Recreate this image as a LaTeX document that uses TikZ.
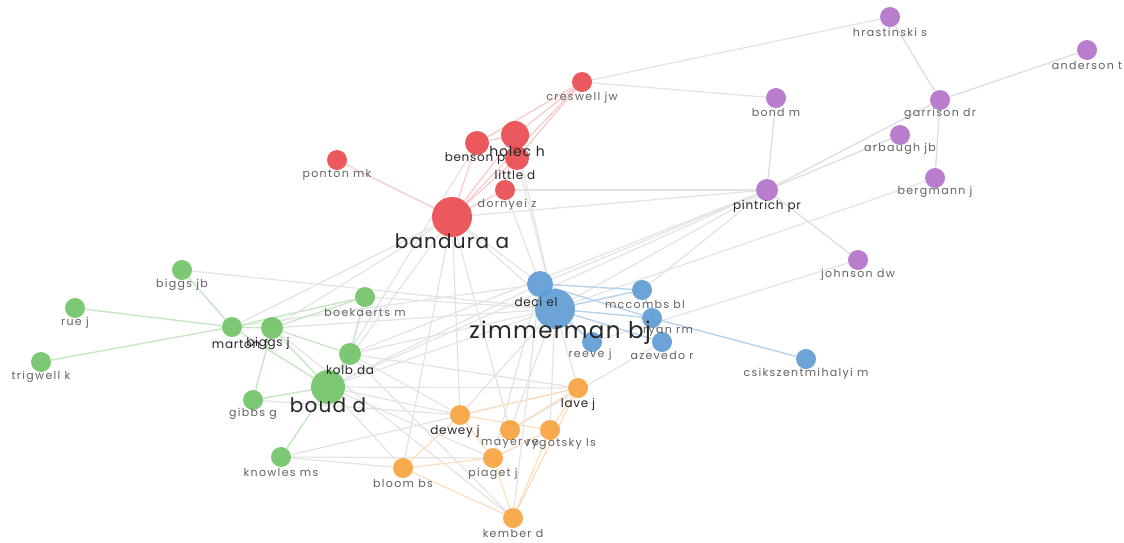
\documentclass[tikz,border=0pt]{standalone}
\usepackage{fontspec}
\setmainfont{Poppins}
\newfontfamily\smallfam[LetterSpace=12]{Poppins}
\newfontfamily\midfam[LetterSpace=6]{Poppins}
\usetikzlibrary{backgrounds}
\definecolor{cred}{HTML}{E9474C}
\definecolor{cpur}{HTML}{B06FC6}
\definecolor{cgrn}{HTML}{6EC265}
\definecolor{cblu}{HTML}{5D9AD4}
\definecolor{corg}{HTML}{F7A13B}
\tikzset{v/.style={circle,inner sep=0pt,minimum size=20pt,opacity=.9}}
\tikzset{lb/.style={inner sep=0pt,text=black!62,font=\smallfam\fontsize{11}{12}\selectfont}}
\tikzset{lbm/.style={inner sep=0pt,text=black!85,font=\midfam\fontsize{12}{13}\selectfont}}
\tikzset{lbb/.style={inner sep=0pt,text=black!85,font=\midfam\fontsize{20}{21}\selectfont}}
\tikzset{ed/.style={draw=black!11,line width=1.2pt}}
\tikzset{edr/.style={draw=cred!30,line width=1.2pt}}
\tikzset{edp/.style={draw=cpur!30!black!15,line width=1.4pt}}
\tikzset{edg/.style={draw=cgrn!40,line width=1.4pt}}
\tikzset{edb/.style={draw=cblu!45,line width=1.4pt}}
\tikzset{edo/.style={draw=corg!35,line width=1.2pt}}

\begin{document}
\begin{tikzpicture}[x=1pt, y=-1pt]
    \useasboundingbox (0,0) rectangle (1124,542);
    \node[v, fill=cred] (creswell) at (582, 82) {};
    \node[v, fill=cred, minimum size=24pt] (benson) at (477, 143) {};
    \node[v, fill=cred, minimum size=28pt] (holec) at (515, 135) {};
    \node[v, fill=cred, minimum size=24pt] (little) at (517, 158) {};
    \node[v, fill=cred] (dornyei) at (505, 190) {};
    \node[v, fill=cred] (ponton) at (337, 160) {};
    \node[v, fill=cred, minimum size=40pt] (bandura) at (452, 217) {};
    \node[v, fill=cpur] (hrastinski) at (890, 17) {};
    \node[v, fill=cpur] (anderson) at (1087, 50) {};
    \node[v, fill=cpur] (bond) at (776, 98) {};
    \node[v, fill=cpur] (garrison) at (940, 100) {};
    \node[v, fill=cpur] (arbaugh) at (900, 135) {};
    \node[v, fill=cpur] (bergmann) at (935, 178) {};
    \node[v, fill=cpur, minimum size=22pt] (pintrich) at (767, 190) {};
    \node[v, fill=cpur] (johnson) at (858, 260) {};
    \node[v, fill=cgrn] (biggsjb) at (182, 270) {};
    \node[v, fill=cgrn] (rue) at (75, 308) {};
    \node[v, fill=cgrn] (boekaerts) at (365, 297) {};
    \node[v, fill=cgrn] (marton) at (232, 327) {};
    \node[v, fill=cgrn, minimum size=22pt] (biggsj) at (272, 328) {};
    \node[v, fill=cgrn, minimum size=22pt] (kolb) at (350, 354) {};
    \node[v, fill=cgrn] (trigwell) at (41, 362) {};
    \node[v, fill=cgrn, minimum size=34pt] (boud) at (328, 387) {};
    \node[v, fill=cgrn] (gibbs) at (253, 400) {};
    \node[v, fill=cgrn] (knowles) at (281, 457) {};
    \node[v, fill=cblu, minimum size=26pt] (deci) at (540, 284) {};
    \node[v, fill=cblu, minimum size=40pt] (zimmerman) at (555, 309) {};
    \node[v, fill=cblu] (mccombs) at (642, 290) {};
    \node[v, fill=cblu] (ryan) at (652, 318) {};
    \node[v, fill=cblu] (reeve) at (592, 342) {};
    \node[v, fill=cblu] (azevedo) at (662, 342) {};
    \node[v, fill=cblu] (csik) at (806, 359) {};
    \node[v, fill=corg] (lave) at (578, 388) {};
    \node[v, fill=corg] (dewey) at (460, 415) {};
    \node[v, fill=corg] (mayer) at (510, 430) {};
    \node[v, fill=corg] (vygotsky) at (550, 430) {};
    \node[v, fill=corg] (piaget) at (493, 458) {};
    \node[v, fill=corg] (bloom) at (403, 468) {};
    \node[v, fill=corg] (kember) at (513, 518) {};

    \begin{scope}[on background layer]
        \draw[ed] (creswell) -- (hrastinski);
        \draw[ed] (creswell) -- (bond);
        \draw[ed] (dornyei) -- (pintrich);
        \draw[ed] (bandura) -- (pintrich);
        \draw[ed] (bandura) -- (zimmerman);
        \draw[ed] (bandura) -- (deci);
        \draw[ed] (bandura) -- (dewey);
        \draw[ed] (bandura) -- (bloom);
        \draw[ed] (bandura) -- (marton);
        \draw[ed] (bandura) -- (biggsj);
        \draw[ed] (bandura) -- (boud);
        \draw[ed] (bandura) -- (mayer);
        \draw[ed] (dornyei) -- (deci);
        \draw[ed] (little) -- (zimmerman);
        \draw[ed] (holec) -- (zimmerman);
        \draw[ed] (benson) -- (boud);
        \draw[ed] (pintrich) -- (zimmerman);
        \draw[ed] (pintrich) -- (deci);
        \draw[ed] (pintrich) -- (mccombs);
        \draw[ed] (pintrich) -- (boud);
        \draw[ed] (pintrich) -- (kolb);
        \draw[ed] (bergmann) -- (zimmerman);
        \draw[ed] (johnson) -- (reeve);
        \draw[ed] (biggsjb) -- (zimmerman);
        \draw[ed] (boekaerts) -- (zimmerman);
        \draw[ed] (kolb) -- (zimmerman);
        \draw[ed] (boud) -- (zimmerman);
        \draw[ed] (boud) -- (deci);
        \draw[ed] (marton) -- (deci);
        \draw[ed] (biggsj) -- (zimmerman);
        \draw[ed] (kolb) -- (dewey);
        \draw[ed] (kolb) -- (lave);
        \draw[ed] (kolb) -- (kember);
        \draw[ed] (boud) -- (dewey);
        \draw[ed] (boud) -- (lave);
        \draw[ed] (boud) -- (bloom);
        \draw[ed] (boud) -- (piaget);
        \draw[ed] (biggsj) -- (kember);
        \draw[ed] (gibbs) -- (dewey);
        \draw[ed] (knowles) -- (piaget);
        \draw[ed] (knowles) -- (lave);
        \draw[ed] (knowles) -- (bloom);
        \draw[ed] (zimmerman) -- (dewey);
        \draw[ed] (zimmerman) -- (mayer);
        \draw[ed] (zimmerman) -- (lave);
        \draw[ed] (zimmerman) -- (vygotsky);
        \draw[ed] (deci) -- (piaget);
        \draw[ed] (deci) -- (kember);
        \draw[ed] (azevedo) -- (mayer);
        \draw[edr] (creswell) -- (holec);
        \draw[edr] (creswell) -- (benson);
        \draw[edr] (creswell) -- (little);
        \draw[edr] (creswell) -- (bandura);
        \draw[edr] (holec) -- (benson);
        \draw[edr] (holec) -- (bandura);
        \draw[edr] (little) -- (bandura);
        \draw[edr] (benson) -- (bandura);
        \draw[edr] (dornyei) -- (bandura);
        \draw[edr] (dornyei) -- (holec);
        \draw[edr] (ponton) -- (bandura);
        \draw[edp] (hrastinski) -- (garrison);
        \draw[edp] (garrison) -- (anderson);
        \draw[edp] (garrison) -- (bergmann);
        \draw[edp] (garrison) -- (pintrich);
        \draw[edp] (arbaugh) -- (pintrich);
        \draw[edp] (bond) -- (pintrich);
        \draw[edp] (pintrich) -- (johnson);
        \draw[edg] (biggsjb) -- (marton);
        \draw[edg] (rue) -- (marton);
        \draw[edg] (trigwell) -- (marton);
        \draw[edg] (marton) -- (biggsj);
        \draw[edg] (biggsj) -- (boekaerts);
        \draw[edg] (marton) -- (boekaerts);
        \draw[edg] (marton) -- (boud);
        \draw[edg] (biggsj) -- (boud);
        \draw[edg] (biggsj) -- (kolb);
        \draw[edg] (kolb) -- (boud);
        \draw[edg] (boekaerts) -- (kolb);
        \draw[edg] (gibbs) -- (biggsj);
        \draw[edg] (gibbs) -- (boud);
        \draw[edg] (knowles) -- (boud);
        \draw[edb] (deci) -- (zimmerman);
        \draw[edb] (deci) -- (mccombs);
        \draw[edb] (deci) -- (ryan);
        \draw[edb] (zimmerman) -- (mccombs);
        \draw[edb] (zimmerman) -- (ryan);
        \draw[edb] (zimmerman) -- (reeve);
        \draw[edb] (zimmerman) -- (azevedo);
        \draw[edb] (mccombs) -- (azevedo);
        \draw[edb] (ryan) -- (csik);
        \draw[edo] (lave) -- (dewey);
        \draw[edo] (lave) -- (vygotsky);
        \draw[edo] (lave) -- (mayer);
        \draw[edo] (lave) -- (kember);
        \draw[edo] (dewey) -- (piaget);
        \draw[edo] (dewey) -- (bloom);
        \draw[edo] (dewey) -- (vygotsky);
        \draw[edo] (piaget) -- (bloom);
        \draw[edo] (piaget) -- (vygotsky);
        \draw[edo] (vygotsky) -- (kember);
        \draw[edo] (piaget) -- (kember);
        \draw[edo] (bloom) -- (kember);
    \end{scope}

    \node[lb] (crejwL) at (582, 98) {creswell jw};
    \node[lbm, font=\midfam\fontsize{14}{15}\selectfont] (holecL) at (517, 151) {holec h};
    \node[lbm] (bensonL) at (475, 159) {benson p};
    \node[lbm] (littleL) at (515, 175) {little d};
    \node[lb] (dornyeiL) at (507, 205) {dornyei z};
    \node[lb] (pontonL) at (337, 175) {ponton mk};
    \node[lbb] (banduraL) at (452, 241) {bandura a};
    \node[lb] (hrastinskiL) at (890, 32) {hrastinski s};
    \node[lb] (andersonL) at (1087, 65) {anderson t};
    \node[lb] (bondL) at (776, 112) {bond m};
    \node[lb] (garrisonL) at (940, 114) {garrison dr};
    \node[lb] (arbaughL) at (900, 149) {arbaugh jb};
    \node[lb] (bergmannL) at (935, 192) {bergmann j};
    \node[lbm] (pintrichL) at (767, 206) {pintrich pr};
    \node[lb] (johnsonL) at (858, 275) {johnson dw};
    \node[lb] (biggsjbL) at (182, 285) {biggs jb};
    \node[lb] (rueL) at (75, 323) {rue j};
    \node[lb] (boekaertsL) at (365, 312) {boekaerts m};
    \node[lbm] (martonL) at (240, 344) {marton f};
    \node[lbm] (biggsjL) at (268, 344) {biggs j};
    \node[lbm] (kolbL) at (350, 370) {kolb da};
    \node[lb] (trigwellL) at (41, 377) {trigwell k};
    \node[lbb] (boudL) at (328, 405) {boud d};
    \node[lb] (gibbsL) at (253, 414) {gibbs g};
    \node[lb] (knowlesL) at (281, 472) {knowles ms};
    \node[lbm] (deciL) at (536, 302) {deci el};
    \node[lb] (mccombsL) at (645, 304) {mccombs bl};
    \node[lbb, font=\midfam\fontsize{23}{24}\selectfont] (zimmermanL) at (560, 333) {zimmerman bj};
    \node[lb] (ryanL) at (668, 332) {ryan rm};
    \node[lb] (reeveL) at (590, 355) {reeve j};
    \node[lb] (azevedoL) at (662, 355) {azevedo r};
    \node[lb] (csikL) at (806, 374) {csikszentmihalyi m};
    \node[lbm] (laveL) at (578, 404) {lave j};
    \node[lbm] (deweyL) at (455, 431) {dewey j};
    \node[lb] (mayerL) at (510, 444) {mayer re};
    \node[lb] (vygotskyL) at (560, 444) {vygotsky ls};
    \node[lb] (piagetL) at (493, 474) {piaget j};
    \node[lb] (bloomL) at (403, 483) {bloom bs};
    \node[lb] (kemberL) at (513, 533) {kember d};
\end{tikzpicture}
\end{document}
